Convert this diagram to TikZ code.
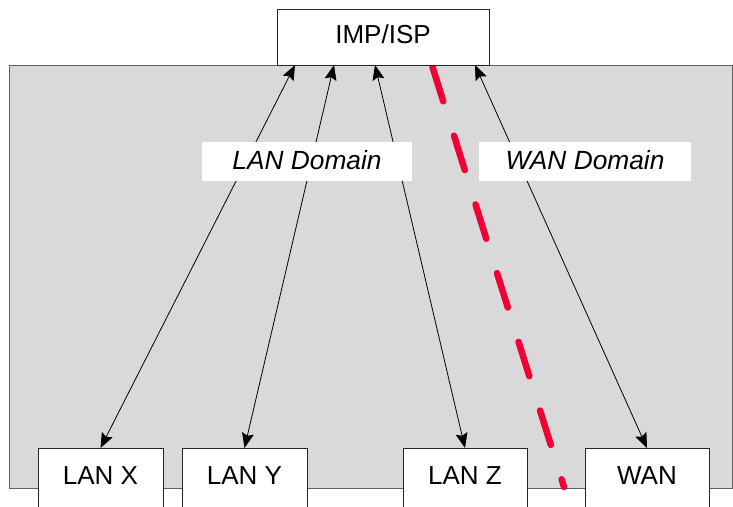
\documentclass[tikz,border=0pt]{standalone}
\usepackage{fontspec}
\setmainfont{Liberation Sans}
\usetikzlibrary{arrows.meta}
\definecolor{panelgray}{RGB}{217,217,217}
\definecolor{paneledge}{RGB}{96,96,96}
\definecolor{splitred}{RGB}{240,0,52}
\tikzset{
  boxnode/.style={draw=black!85,line width=0.9pt,fill=white,inner sep=0pt,outer sep=0pt,anchor=north west,font=\fontsize{26}{31}\selectfont},
  lannode/.style={boxnode,minimum width=125pt,text height=36.3pt,text depth=40pt},
  domainlabel/.style={fill=white,inner sep=0pt,outer sep=0pt,anchor=north west,text height=27pt,text depth=12pt,font=\fontsize{26.3}{31}\selectfont\itshape},
  conn/.style={line width=0.8pt,arrows={Stealth[length=15pt,width=12pt,inset=2.5pt]-Stealth[length=15pt,width=12pt,inset=2.5pt]}},
  splitline/.style={draw=splitred,line width=6.5pt,line cap=round,dash pattern=on 36pt off 36pt}
}
\begin{document}
\begin{tikzpicture}[x=1pt,y=-1pt]
\useasboundingbox (0,0) rectangle (733,506);
\clip (0,0) rectangle (733,506);
\fill[white] (0,0) rectangle (733,506);
% gray domain panel
\draw[fill=panelgray,draw=paneledge,line width=1pt] (9.5,65) rectangle (732.5,488);
% nodes
\node[boxnode,minimum width=212pt,text height=34pt,text depth=22pt] (imp) at (277,9) {IMP/ISP};
\node[lannode] (lanx) at (38,448) {LAN X};
\node[lannode] (lany) at (182,448) {LAN Y};
\node[lannode,minimum width=124pt] (lanz) at (403,448) {LAN Z};
\node[lannode,minimum width=124pt] (wan) at (585,448) {WAN};
% connectors
\draw[conn] ([xshift=18pt]imp.south west) -- (lanx.north);
\draw[conn] ([xshift=57pt]imp.south west) -- (lany.north);
\draw[conn] ([xshift=98pt]imp.south west) -- (lanz.north);
\draw[conn] ([xshift=198pt]imp.south west) -- (wan.north);
% red split line
\coordinate (redtop) at (432.5,67);
\coordinate (redbot) at (564,487);
\draw[splitline] (redtop) -- (redbot);
% domain labels
\node[domainlabel,minimum width=210pt] (landom) at (202,142) {LAN Domain};
\node[domainlabel,minimum width=212pt] (wandom) at (479,142) {WAN Domain};
% redraw boxes on top
\node[lannode] at (38,448) {LAN X};
\node[lannode] at (182,448) {LAN Y};
\node[lannode,minimum width=124pt] at (403,448) {LAN Z};
\node[lannode,minimum width=124pt] at (585,448) {WAN};
\node[boxnode,minimum width=212pt,text height=34pt,text depth=22pt] at (277,9) {IMP/ISP};
\end{tikzpicture}
\end{document}
